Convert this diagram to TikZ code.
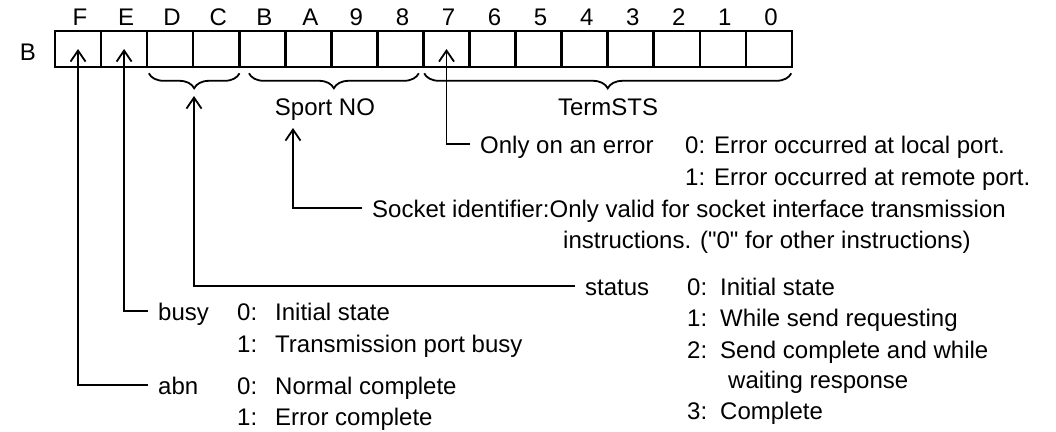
\documentclass[tikz,border=0pt]{standalone}
\usepackage{fontspec}
\setmainfont{Liberation Sans}[Ligatures=TeXOff]
\usetikzlibrary{arrows.meta,decorations.pathreplacing}
\tikzset{
  cell/.style={draw, line width=2.6pt, minimum width=46.06pt, minimum height=36pt, inner sep=0pt},
  txt/.style={anchor=base west, inner xsep=10pt, inner ysep=0pt, text height=18pt, text depth=0pt},
  lbl/.style={anchor=base, inner sep=0pt},
  brc/.style={decorate, decoration={brace, mirror, amplitude=15pt}, line width=1.8pt},
  arr/.style={line width=1.8pt, -{Straight Barb[length=11pt,width=15pt]}},
}
\begin{document}
\begin{tikzpicture}[x=1pt, y=-1pt, every node/.style={font=\fontsize{24}{29}\selectfont}]
    \useasboundingbox (0,0) rectangle (1056,431);

    \node[lbl] (regB) at (28,60) {B};
    \foreach \lab [count=\i from 0] in {F,E,D,C,B,A,9,8,7,6,5,4,3,2,1,0} {
      \node[cell] (c\lab) at ({55+46.06*(\i+0.5)},49) {};
      \node[lbl] (h\lab) at ({57+46.06*(\i+0.5)},25) {\lab};
    }

    \draw[brc] ([xshift=3pt,yshift=-5pt]cD.south west) -- ([xshift=-1pt,yshift=-5pt]cC.south east);
    \draw[brc] ([xshift=11pt,yshift=-5pt]cB.south west) -- ([xshift=-6pt,yshift=-5pt]c8.south east);
    \draw[brc] ([xshift=2pt,yshift=-5pt]c7.south west) -- ([xshift=-2pt,yshift=-5pt]c0.south east);

    \node[lbl] (sport) at (325,115) {Sport NO};
    \node[lbl] (term) at (608,115) {TermSTS};

    \coordinate (dcTip) at (194,96);
    \coordinate (sportTip) at (293,128);

    \node[txt] (err) at (470,153) {Only on an error};
    \node[txt] (err0) at (675,153) {0: Error occurred at local port.};
    \node[txt] (err1) at (675,185) {1: Error occurred at remote port.};

    \node[txt] (sock) at (362,217) {Socket identifier:Only valid for socket interface transmission};
    \node[txt] (sock1) at (553,248) {instructions. ("0" for other instructions)};

    \node[txt] (status) at (575,295) {status};
    \node[txt] (status0) at (677,295) {0:\hspace{13pt}Initial state};
    \node[txt] (status1) at (677,326) {1:\hspace{13pt}While send requesting};
    \node[txt] (status2) at (677,358) {2:\hspace{13pt}Send complete and while};
    \node[txt] (status2b) at (718,388) {waiting response};
    \node[txt] (status3) at (677,419) {3:\hspace{13pt}Complete};

    \node[txt] (busy) at (148,320) {busy};
    \node[txt] (busy0) at (227,320) {0:\hspace{18pt}Initial state};
    \node[txt] (busy1) at (227,352) {1:\hspace{18pt}Transmission port busy};

    \node[txt] (abn) at (148,394) {abn};
    \node[txt] (abn0) at (227,394) {0:\hspace{18pt}Normal complete};
    \node[txt] (abn1) at (227,425) {1:\hspace{18pt}Error complete};

    \draw[arr] (abn.west) -| (cF.center);
    \draw[arr] (busy.west) -| (cE.center);
    \draw[arr] (status.west) -| (dcTip);
    \draw[arr] (sock.west) -| (sportTip);
    \draw[arr] (err.west) -| (c7.center);
  \end{tikzpicture}
\end{document}
